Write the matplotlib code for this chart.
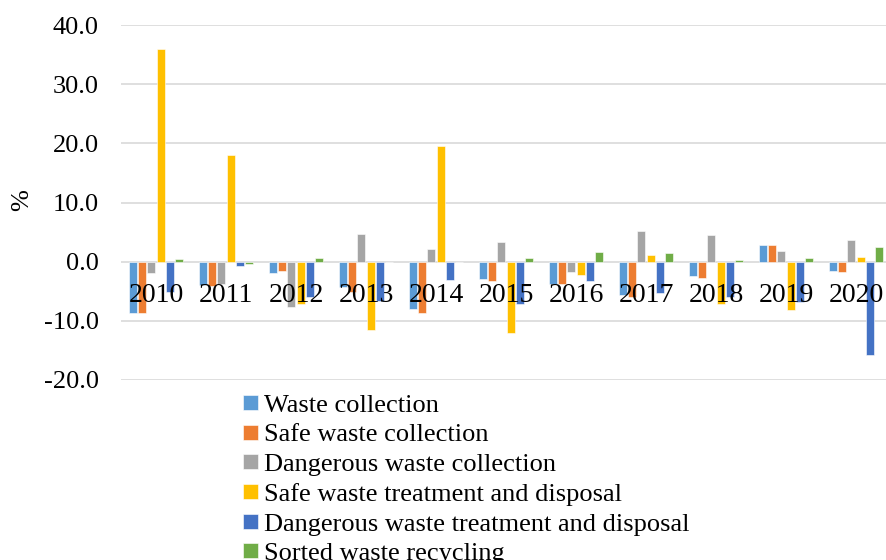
import matplotlib
matplotlib.use("Agg")
import matplotlib.pyplot as plt
import numpy as np

plt.rcParams['font.family'] = ['Liberation Serif', 'DejaVu Serif']

years = ['2010', '2011', '2012', '2013', '2014', '2015', '2016', '2017', '2018', '2019', '2020']
series_names = ['Waste collection', 'Safe waste collection', 'Dangerous waste collection',
                'Safe waste treatment and disposal', 'Dangerous waste treatment and disposal',
                'Sorted waste recycling']

waste_collection = [-8.6, -4.0, -1.9, -4.2, -8.0, -2.9, -3.7, -5.6, -2.4, 2.8, -1.6]
safe_collection = [-8.7, -4.1, -1.6, -5.2, -8.6, -3.3, -3.8, -5.9, -2.7, 2.8, -1.7]
dangerous_collection = [-1.9, -3.8, -7.6, 4.7, 2.1, 3.3, -1.7, 5.2, 4.5, 1.8, 3.7]
safe_treatment = [35.9, 18.1, -7.2, -11.5, 19.5, -12.0, -2.2, 1.2, -7.1, -8.2, 0.8]
dangerous_treatment = [-5.1, -0.7, -5.9, -6.6, -3.1, -7.1, -3.2, -5.3, -6.0, -6.9, -15.8]
sorted_recycling = [0.45, -0.4, 0.7, 0.0, 0.0, 0.6, 1.6, 1.5, 0.3, 0.7, 2.4]

colors = ['#5B9BD5', '#ED7D31', '#A5A5A5', '#FFC000', '#4472C4', '#70AD47']
all_series = [waste_collection, safe_collection, dangerous_collection,
              safe_treatment, dangerous_treatment, sorted_recycling]

fig = plt.figure(figsize=(8.87, 5.6), dpi=100)
ax = fig.add_axes([121 / 887, 1 - 380 / 560, 770 / 887, 355 / 560])

x = np.arange(len(years))
step = 0.133
width = 0.11
for k, (vals, col, name) in enumerate(zip(all_series, colors, series_names)):
    ax.bar(x + (k - 2.5) * step, vals, width, color=col, label=name,
           edgecolor='white', linewidth=0.4, zorder=3)

ax.set_xlim(-0.5, 10.5)
ax.set_ylim(-20, 40)
ax.set_yticks(np.arange(-20, 41, 10))
ax.set_yticklabels([f'{v:.1f}' for v in np.arange(-20, 41, 10)], fontsize=19)
ax.tick_params(axis='y', length=0, pad=16)
ax.set_xticks([])
ax.grid(axis='y', color='#d9d9d9', linewidth=1.2, zorder=0)
for s in ax.spines.values():
    s.set_visible(False)

for i, yr in enumerate(years):
    ax.annotate(yr, (i, 0), xytext=(0, -15.5), textcoords='offset points',
                ha='center', va='top', fontsize=20, zorder=5)

fig.text(22 / 887, 1 - 200 / 560, '%', rotation=90, fontsize=19, ha='center', va='center')

fig.legend(loc='upper left', bbox_to_anchor=(243 / 887, 1 - 395 / 560), frameon=False,
           fontsize=19, handlelength=0.55, handleheight=0.5, handletextpad=0.25,
           labelspacing=0.28, borderpad=0, borderaxespad=0)

fig.savefig('out.png', dpi=100)
